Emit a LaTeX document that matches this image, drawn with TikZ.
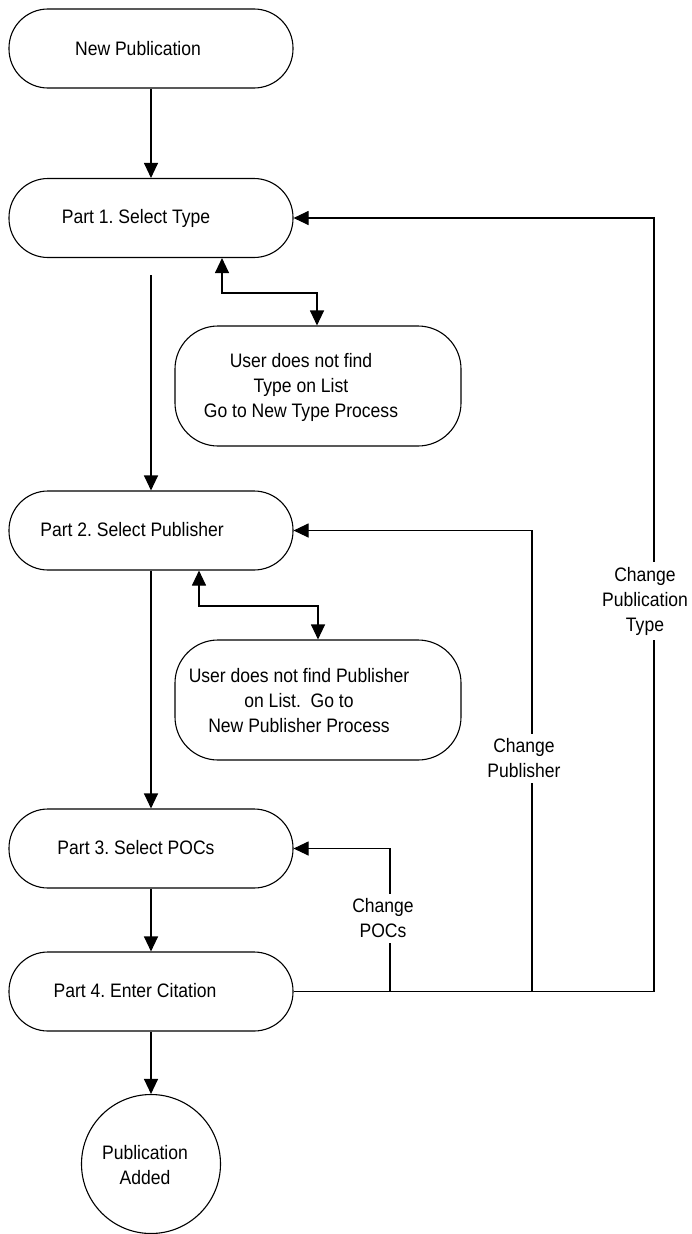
\documentclass[tikz,border=0pt]{standalone}
\usepackage{fontspec}
\setmainfont{Liberation Sans}[FakeStretch=0.9]
\usetikzlibrary{arrows.meta}
\frenchspacing
\begin{document}
\begin{tikzpicture}[x=1pt,y=-1pt,
  txt/.style={font=\fontsize{19.5}{25}\selectfont, inner sep=0pt, align=center},
  lbl/.style={font=\fontsize{19.5}{25}\selectfont, fill=white, inner sep=5pt, align=center},
  part/.style={draw, line width=1.1pt, rounded corners=39pt, minimum width=284pt, minimum height=79pt, inner sep=0pt},
  userbox/.style={draw, line width=1.1pt, rounded corners=43pt, minimum width=286pt, minimum height=120pt, inner sep=0pt},
  endcirc/.style={draw, line width=1.1pt, circle, minimum size=139pt, inner sep=0pt},
  conn/.style={line width=1.1pt},
  arr/.style={conn, -{Triangle[length=15pt,width=14pt]}},
  darr/.style={conn, {Triangle[length=15pt,width=14pt]}-{Triangle[length=15pt,width=14pt]}}
]
\useasboundingbox (0,0) rectangle (691,1234);

% boxes
\node[part] (np) at (151,48.5) {};
\node[txt] (tnp) at (138,48.5) {New Publication};
\node[part] (p1) at (151,218) {};
\node[txt] (tp1) at (136,218) {Part 1. Select Type};
\node[userbox] (u1) at (318,386) {};
\node[txt] (tu1) at (301,387) {User does not find\\Type on List\\Go to New Type Process};
\node[part] (p2) at (151,530.5) {};
\node[txt] (tp2) at (132,530) {Part 2. Select Publisher};
\node[userbox] (u2) at (318,700) {};
\node[txt] (tu2) at (299,701) {User does not find Publisher\\on List.\ \ Go to\\New Publisher Process};
\node[part] (p3) at (151,848.5) {};
\node[txt] (tp3) at (136,848) {Part 3. Select POCs};
\node[part] (p4) at (151,991.5) {};
\node[txt] (tp4) at (135,991) {Part 4. Enter Citation};
\node[endcirc] (done) at (151,1164) {};
\node[txt] (tdone) at (145,1165) {Publication\\Added};

% helper coordinates
\coordinate (c1) at (151,275);
\coordinate (d1a) at (222,293);
\coordinate (d1b) at (317,293);
\coordinate (d2a) at (199,606);
\coordinate (d2b) at (318,606);
\coordinate (xpoc) at (390,0);
\coordinate (xpub) at (532,0);
\coordinate (xtype) at (654,0);

% main flow
\draw[arr] (np.south) -- (p1.north);
\draw[arr] (c1) -- (p2.north);
\draw[arr] (p2.south) -- (p3.north);
\draw[arr] (p3.south) -- (p4.north);
\draw[arr] (p4.south) -- (done.north);

% side processes
\draw[darr] (p1.south -| d1a) -- (d1a) -- (d1b) -- (u1.north -| d1b);
\draw[darr] (p2.south -| d2a) -- (d2a) -- (d2b) -- (u2.north -| d2b);

% feedback loops
\draw[conn] (p4.east) -- (p4.east -| xtype);
\draw[arr] (p4.east -| xpoc) -- (p3.east -| xpoc) -- (p3.east);
\draw[arr] (p4.east -| xpub) -- (p2.east -| xpub) -- (p2.east);
\draw[arr] (p4.east -| xtype) -- (p1.east -| xtype) -- (p1.east);

\node[lbl] (lpoc) at (383,918.5) {Change\\POCs};
\node[lbl] (lpub) at (524,758.5) {Change\\Publisher};
\node[lbl] (ltype) at (645,601) {Change\\Publication\\Type};
\end{tikzpicture}
\end{document}
